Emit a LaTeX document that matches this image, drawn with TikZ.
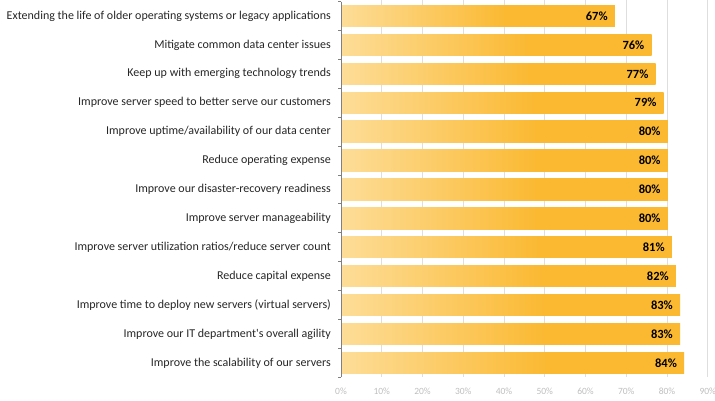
\documentclass[tikz,border=0pt]{standalone}
\usepackage{fontspec}
\setmainfont{Carlito}
\usepackage{xcolor}
\usepackage{tikz}

\definecolor{barlight}{RGB}{253,221,152}
\definecolor{bardark}{RGB}{251,185,50}
\definecolor{gridgray}{RGB}{222,222,222}
\definecolor{ticktext}{RGB}{190,190,190}
\pgfdeclarehorizontalshading{barshade}{100bp}{color(0bp)=(barlight); color(25bp)=(barlight); color(55bp)=(bardark); color(100bp)=(bardark)}

\tikzset{
  cat/.style={anchor=east, inner sep=0pt, text=black!85, font=\fontsize{12}{14}\selectfont},
  pct/.style={anchor=east, inner sep=0pt, font=\fontsize{12.5}{14}\selectfont\bfseries},
  axlabel/.style={inner sep=0pt, text=ticktext, font=\fontsize{9.5}{11}\selectfont}
}

\begin{document}
\begin{tikzpicture}[x=1pt,y=-1pt]
  \useasboundingbox (0,0) rectangle (715,400);
  % grid and axis labels
  \foreach \k in {1,...,9} {
    \draw[gridgray, line width=1pt] (341+40.75*\k,0) -- (341+40.75*\k,376.5);
    \node[axlabel] (ax\k) at (341+40.75*\k,391) {\k0\%};
  }
  \node[axlabel] (ax0) at (341,391) {0\%};
  % bars
  \foreach \v/\t [count=\i from 0] in {
      67/{Extending the life of older operating systems or legacy applications},
      76/{Mitigate common data center issues},
      77/{Keep up with emerging technology trends},
      79/{Improve server speed to better serve our customers},
      80/{Improve uptime/availability of our data center},
      80/{Reduce operating expense},
      80/{Improve our disaster-recovery readiness},
      80/{Improve server manageability},
      81/{Improve server utilization ratios/reduce server count},
      82/{Reduce capital expense},
      83/{Improve time to deploy new servers (virtual servers)},
      83/{Improve our IT department\textquotesingle s overall agility},
      84/{Improve the scalability of our servers}} {
    \coordinate (end\i) at (341.8+4.075*\v,16+28.9*\i);
    \shade[shading=barshade] (341,5.3+28.9*\i) rectangle ([yshift=-10.7pt]end\i);
    \node[pct] (val\i) at ([xshift=-7pt]end\i) {\v\%};
    \node[cat] (cat\i) at (331,16+28.9*\i) {\t};
  }
  % axis
  \draw[gray, line width=0.8pt] (341,1.5) -- (341,376.5);
  \foreach \i in {0,...,13}
    \draw[gray, line width=0.8pt] (341,1.5+28.9*\i) -- (338,1.5+28.9*\i);
\end{tikzpicture}
\end{document}
